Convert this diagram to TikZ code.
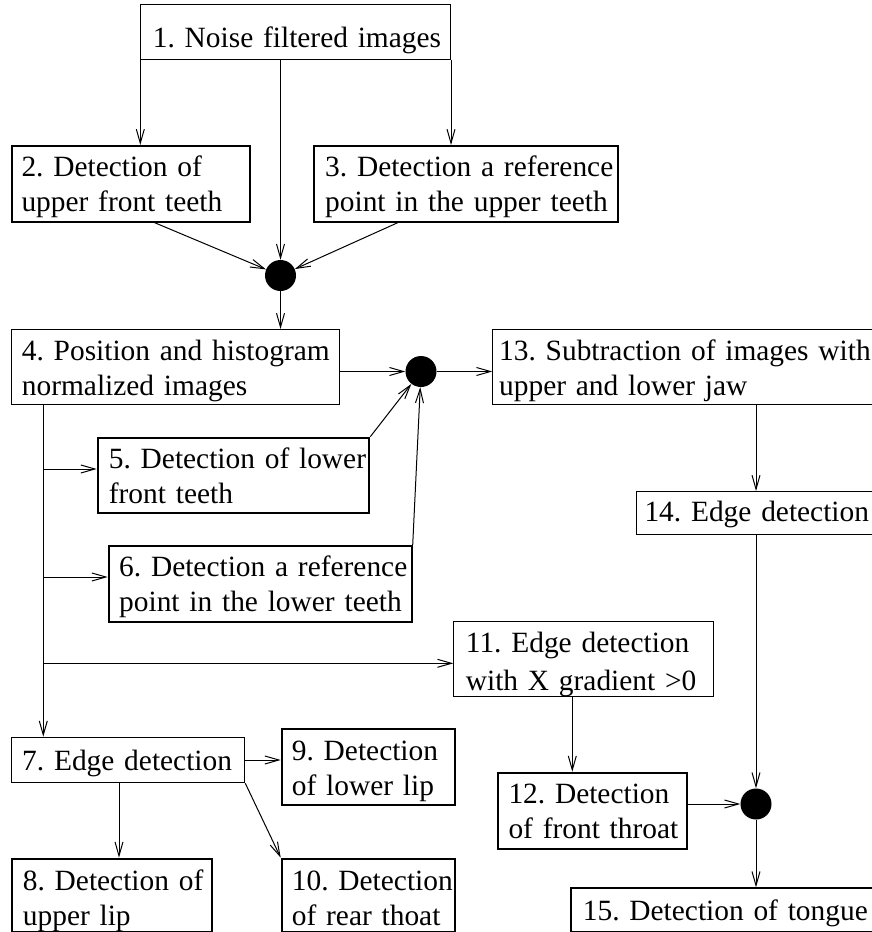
\documentclass[tikz,border=0pt]{standalone}
\usepackage{fontspec}
\setmainfont{Liberation Serif}
\usetikzlibrary{arrows.meta,calc}
\frenchspacing
\tikzset{
  box/.style={draw, line width=1pt, inner sep=0pt, anchor=north west},
  tbox/.style={box, line width=2pt},
  txt/.style={inner sep=0pt, anchor=base west, align=left, text width=400pt,
              font=\frenchspacing\fontsize{29.4}{35}\selectfont},
  dot/.style={circle, fill=black, inner sep=0pt, minimum size=31pt},
  arr/.style={-{Straight Barb[length=14pt,width=8pt]}, line width=1pt},
}
\begin{document}
\begin{tikzpicture}[x=1pt,y=-1pt]
\useasboundingbox (0,0) rectangle (872,932);
\fill[white] (0,0) rectangle (872,932);
\clip (0,0) rectangle (872,932);

% boxes
\node[box,  minimum width=309.7pt, minimum height=54.4pt] (b1)  at (140.3,4.3) {};
\node[tbox, minimum width=238pt,   minimum height=75.7pt] (b2)  at (10.7,145) {};
\node[tbox, minimum width=304pt,   minimum height=75.7pt] (b3)  at (312.7,145) {};
\node[box,  minimum width=328.6pt, minimum height=75pt]   (b4)  at (10.7,329) {};
\node[tbox, minimum width=271.6pt, minimum height=75pt]   (b5)  at (96.7,436.7) {};
\node[tbox, minimum width=303pt,   minimum height=75.7pt] (b6)  at (107.7,545) {};
\node[box,  minimum width=233.6pt, minimum height=45.6pt] (b7)  at (10.7,736.7) {};
\node[tbox, minimum width=200pt,   minimum height=73.3pt] (b8)  at (10.7,857.7) {};
\node[tbox, minimum width=173.3pt, minimum height=75.7pt] (b9)  at (280.7,728.3) {};
\node[tbox, minimum width=173.3pt, minimum height=73.3pt] (b10) at (280.7,857.7) {};
\node[box,  minimum width=260pt,   minimum height=75.3pt] (b11) at (453.3,620.7) {};
\node[tbox, minimum width=189pt,   minimum height=76pt]   (b12) at (496.7,771.7) {};
\node[box,  minimum width=390pt,   minimum height=75pt]   (b13) at (492.3,329) {};
\node[box,  minimum width=250pt,   minimum height=43pt]   (b14) at (636,491) {};
\node[tbox, minimum width=320pt,   minimum height=43.6pt] (b15) at (570,887.3) {};

% texts
\node[txt] (t1)  at (152.7,47.7)  {1. Noise filtered images};
\node[txt] (t2)  at (21.3,176.7)  {2. Detection of\\upper front teeth};
\node[txt] (t3)  at (325,176.7)   {3. Detection a reference\\point in the upper teeth};
\node[txt] (t4)  at (21.7,360.7)  {4. Position and histogram\\normalized images};
\node[txt] (t5)  at (108.7,468.3) {5. Detection of lower\\front teeth};
\node[txt] (t6)  at (119,576.7)   {6. Detection a reference\\point in the lower teeth};
\node[txt] (t7)  at (22,770.7)    {7. Edge detection};
\node[txt] (t8)  at (22.7,890)    {8. Detection of\\upper lip};
\node[txt] (t9)  at (291.7,760)   {9. Detection\\of lower lip};
\node[txt] (t10) at (291.7,890)   {10. Detection\\of rear thoat};
\node[txt] (t11) at (465.7,652.7) {11. Edge detection\\[3pt]with X gradient >0};
\node[txt] (t12) at (508.3,803.3) {12. Detection\\of front throat};
\node[txt] (t13) at (499,360.7)   {13. Subtraction of images with\\upper and lower jaw};
\node[txt] (t14) at (644.3,521.7) {14. Edge detection};
\node[txt] (t15) at (582.7,920)   {15. Detection of tongue};

% junction dots
\node[dot] (d1) at (280.5,275.5) {};
\node[dot] (d2) at (421,371.5) {};
\node[dot] (d3) at (756,804) {};

% helper coordinates
\coordinate (c2)   at ([xshift=144pt]b2.south west);
\coordinate (c3)   at ([xshift=85pt]b3.south west);
\coordinate (s4)   at ([xshift=32.6pt]b4.south west);
\coordinate (j5)   at (43.3,469);
\coordinate (j6)   at (43.3,577);
\coordinate (j11)  at (43.3,663.3);
\coordinate (c78)  at ([xshift=108.3pt]b7.south west);
\coordinate (c1112) at ([xshift=119pt]b11.south west);

% connectors
\draw[arr] (b1.south west) -- (b1.south west |- b2.north);
\draw[arr] (d1 |- b1.south) -- (d1);
\draw[arr] (b1.south east) -- (b1.south east |- b3.north);
\draw[arr] (c2) -- (d1);
\draw[arr] (c3) -- (d1);
\draw[arr] (d1) -- (d1 |- b4.north);
\draw[arr] (b4.east |- d2) -- (d2);
\draw[arr] (d2) -- (d2 -| b13.west);
\draw[arr] (b5.north east) -- (d2);
\draw[arr] (b6.north east) -- (d2);
\draw[arr] (s4) -- (s4 |- b7.north);
\draw[arr] (j5) -- (j5 -| b5.west);
\draw[arr] (j6) -- (j6 -| b6.west);
\draw[arr] (j11) -- (j11 -| b11.west);
\draw[arr] (b7.east) -- (b7.east -| b9.west);
\draw[arr] (c78) -- (c78 |- b8.north);
\draw[arr] (b7.south east) -- (b10.north west);
\draw[arr] (c1112) -- (c1112 |- b12.north);
\draw[arr] (b12.east |- d3) -- (d3);
\draw[arr] (d3 |- b13.south) -- (d3 |- b14.north);
\draw[arr] (d3 |- b14.south) -- (d3);
\draw[arr] (d3) -- (d3 |- b15.north);
\end{tikzpicture}
\end{document}
